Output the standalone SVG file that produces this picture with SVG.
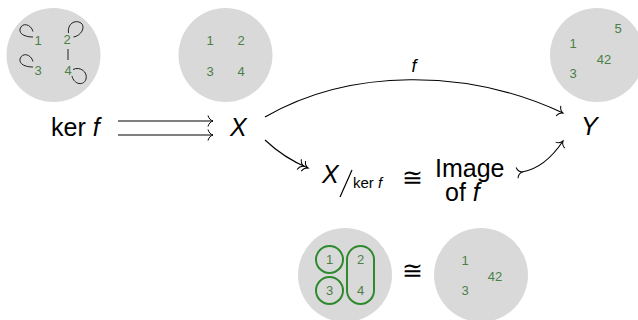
<svg xmlns="http://www.w3.org/2000/svg" width="638" height="320" viewBox="0 0 638 320">
<defs>
<style>
.bub{fill:#d9d9d9}
.num{font-family:"Liberation Sans",Arial,sans-serif;font-size:13px;fill:#4a8048;text-anchor:middle}
.big{font-family:"Liberation Sans",Arial,sans-serif;font-size:25px;fill:#000}
.it{font-style:italic}
.sm{font-family:"Liberation Sans",Arial,sans-serif;font-size:15px;fill:#000}
.lab{font-family:"Liberation Sans",Arial,sans-serif;font-size:18px;fill:#000;font-style:italic;text-anchor:middle}
.edge{fill:none;stroke:#000;stroke-width:1.1}
.loop{fill:none;stroke:#222;stroke-width:1}
.grp{fill:none;stroke:#2f8a2f;stroke-width:2}
</style>
<marker id="to" viewBox="-7 -7 8 14" refX="0" refY="0" markerWidth="8" markerHeight="14" markerUnits="userSpaceOnUse" orient="auto" overflow="visible">
<path d="M-5,-5.5 C-4.2,-2.2 -2,-0.6 0,0 C-2,0.6 -4.2,2.2 -5,5.5" fill="none" stroke="#000" stroke-width="1"/>
</marker>
<marker id="tto" viewBox="-11 -7 12 14" refX="0" refY="0" markerWidth="12" markerHeight="14" markerUnits="userSpaceOnUse" orient="auto" overflow="visible">
<path d="M-5,-5.5 C-4.2,-2.2 -2,-0.6 0,0 C-2,0.6 -4.2,2.2 -5,5.5 M-9.5,-5.5 C-8.7,-2.2 -6.5,-0.6 -4.5,0 C-6.5,0.6 -8.7,2.2 -9.5,5.5" fill="none" stroke="#000" stroke-width="1"/>
</marker>
</defs>

<g id="ker-set">
<circle class="bub" cx="53.5" cy="55" r="47"/>
<path class="loop" d="M33,31.5 C31,24 22,22 20,29 C19,34 25,37 33,37"/>
<path class="loop" d="M33,61.5 C31,54 22,52 20,59 C19,64 25,67 33,67"/>
<path class="loop" d="M68.5,33 C67,24 75,19 81,23 C86,27 81,36 73.5,37"/>
<path class="loop" d="M73,69.5 C80,66 88,72 86,79 C84,86 74,85 72,76"/>
<line class="loop" x1="68" y1="49" x2="68" y2="60"/>
<text class="num" x="38" y="45">1</text>
<text class="num" x="67" y="44">2</text>
<text class="num" x="38" y="75">3</text>
<text class="num" x="68" y="75">4</text>
</g>

<g id="x-set">
<circle class="bub" cx="225.5" cy="55" r="47"/>
<text class="num" x="210" y="45">1</text>
<text class="num" x="241" y="45">2</text>
<text class="num" x="210" y="76">3</text>
<text class="num" x="241" y="76">4</text>
</g>

<g id="y-set">
<circle class="bub" cx="597" cy="55" r="47"/>
<text class="num" x="618" y="33">5</text>
<text class="num" x="573" y="48">1</text>
<text class="num" x="604" y="64">42</text>
<text class="num" x="573" y="78">3</text>
</g>

<g id="ker">
<text class="big" x="51" y="136">ker <tspan class="it">f</tspan></text>
</g>
<g id="X">
<text class="big it" x="230" y="136">X</text>
</g>
<g id="Y">
<text class="big it" x="581" y="135">Y</text>
</g>
<g id="quotient">
<text class="big it" x="322" y="183">X</text>
<line x1="352" y1="170" x2="340" y2="197" stroke="#000" stroke-width="1.2"/>
<text class="sm" x="353" y="188">ker <tspan class="it">f</tspan></text>
<text class="big" x="402" y="186">≅</text>
<text class="big" x="435" y="177">Image</text>
<text class="big" x="445" y="201">of <tspan class="it">f</tspan></text>
</g>

<g id="partition">
<circle class="bub" cx="345" cy="275" r="47"/>
<circle class="grp" cx="329.5" cy="259.5" r="13.5"/>
<circle class="grp" cx="329.5" cy="290.5" r="13.5"/>
<rect class="grp" x="347" y="246" width="27" height="58" rx="13.5"/>
<text class="num" x="329.5" y="264">1</text>
<text class="num" x="360.5" y="264">2</text>
<text class="num" x="329.5" y="295">3</text>
<text class="num" x="360.5" y="295">4</text>
</g>
<g id="iso">
<text class="big" x="402" y="279">≅</text>
</g>
<g id="image-set">
<circle class="bub" cx="481" cy="275" r="47"/>
<text class="num" x="465" y="265">1</text>
<text class="num" x="495" y="281">42</text>
<text class="num" x="465" y="295">3</text>
</g>

<g id="connectors">
<line class="edge" x1="118" y1="121" x2="213" y2="121" marker-end="url(#to)"/>
<line class="edge" x1="118" y1="135" x2="213" y2="135" marker-end="url(#to)"/>
<path class="edge" d="M265,117 C350,68 467,68 563,113" marker-end="url(#to)"/>
<text class="lab" x="414" y="72">f</text>
<path class="edge" d="M265,140 Q284,158 308,168" marker-end="url(#tto)"/>
<path class="edge" d="M522,172 Q545,168 563,141" marker-start="url(#to)" marker-end="url(#to)"/>
</g>
</svg>
